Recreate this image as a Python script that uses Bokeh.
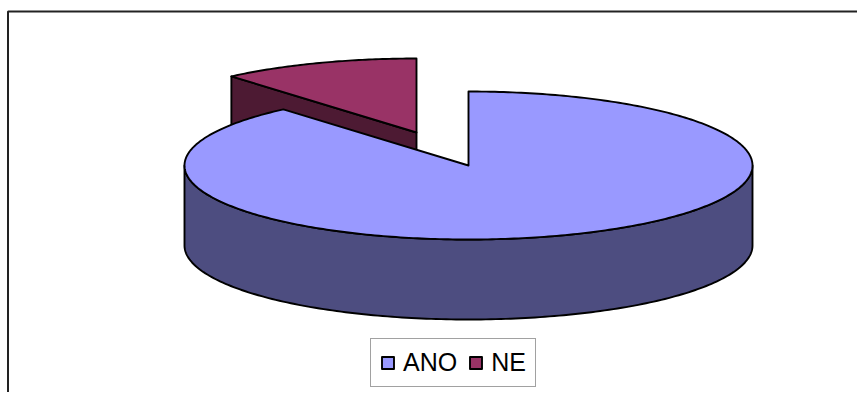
import numpy as np
from bokeh.plotting import figure
from bokeh.models import Range1d, Legend, LegendItem
from bokeh.embed import file_html
from bokeh.resources import INLINE

categories = ["ANO", "NE"]
values = [88.7, 11.3]
top_colors = ["#9999FF", "#993366"]
side_colors = ["#4D4D80", "#4D1A33"]

W, H = 857, 392
CX, CY, RX, RY, DEPTH = 468.0, 165.0, 284.0, 74.0, 80.0
EXPLODE = (-52.0, -33.0)
LW = 1.9


def rim(t_deg, ox=0.0, oy=0.0, dz=0.0):
    t = np.radians(t_deg)
    return CX + ox + RX * np.sin(t), CY + oy + dz - RY * np.cos(t)


p = figure(width=W, height=H, output_backend="svg", toolbar_location=None,
           x_range=Range1d(0, W), y_range=Range1d(H, 0), min_border=0,
           outline_line_color=None,
           background_fill_color="white", border_fill_color="white")
p.axis.visible = False
p.grid.visible = False

# chart frame (runs off the right and bottom of the picture)
p.line([7.5, 7.5, W], [H, 11, 11], line_color="#222222", line_width=2)

total = sum(values)
ano_end = 360.0 * values[0] / total

# exploded NE slice: cut-face first, then its top
ox, oy = EXPLODE
ax, ay = CX + ox, CY + oy
lx, ly = rim(ano_end, ox, oy)
p.patch([ax, lx, lx, ax], [ay, ly, ly + DEPTH, ay + DEPTH],
        fill_color=side_colors[1], line_color="black", line_width=LW, line_join="round")
ne_t = np.linspace(ano_end, 360, 60)
nx, ny = rim(ne_t, ox, oy)
r_ne = p.patch(np.r_[ax, nx], np.r_[ay, ny], fill_color=top_colors[1],
               line_color="black", line_width=LW, line_join="round")

# ANO slice: front wall, then top
front = np.linspace(90, 270, 180)
fx, fy = rim(front)
bx, by = rim(front[::-1], dz=DEPTH)
p.patch(np.r_[fx, bx], np.r_[fy, by], fill_color=side_colors[0],
        line_color="black", line_width=LW, line_join="round")
ano_t = np.linspace(0, ano_end, 360)
tx, ty = rim(ano_t)
r_ano = p.patch(np.r_[CX, tx], np.r_[CY, ty], fill_color=top_colors[0],
                line_color="black", line_width=LW, line_join="round")

legend = Legend(
    items=[LegendItem(label=categories[0], renderers=[r_ano]),
           LegendItem(label=categories[1], renderers=[r_ne])],
    orientation="horizontal", location=(370, H - 387), margin=0, padding=9,
    spacing=11, glyph_width=15, glyph_height=15, label_standoff=8,
    label_text_font="Liberation Sans", label_text_font_size="25px",
    label_text_color="black", border_line_color="#444444", border_line_width=1.5,
    background_fill_color="white", background_fill_alpha=1.0,
)
p.add_layout(legend, "center")

open("out.html", "w").write(file_html(p, INLINE))
